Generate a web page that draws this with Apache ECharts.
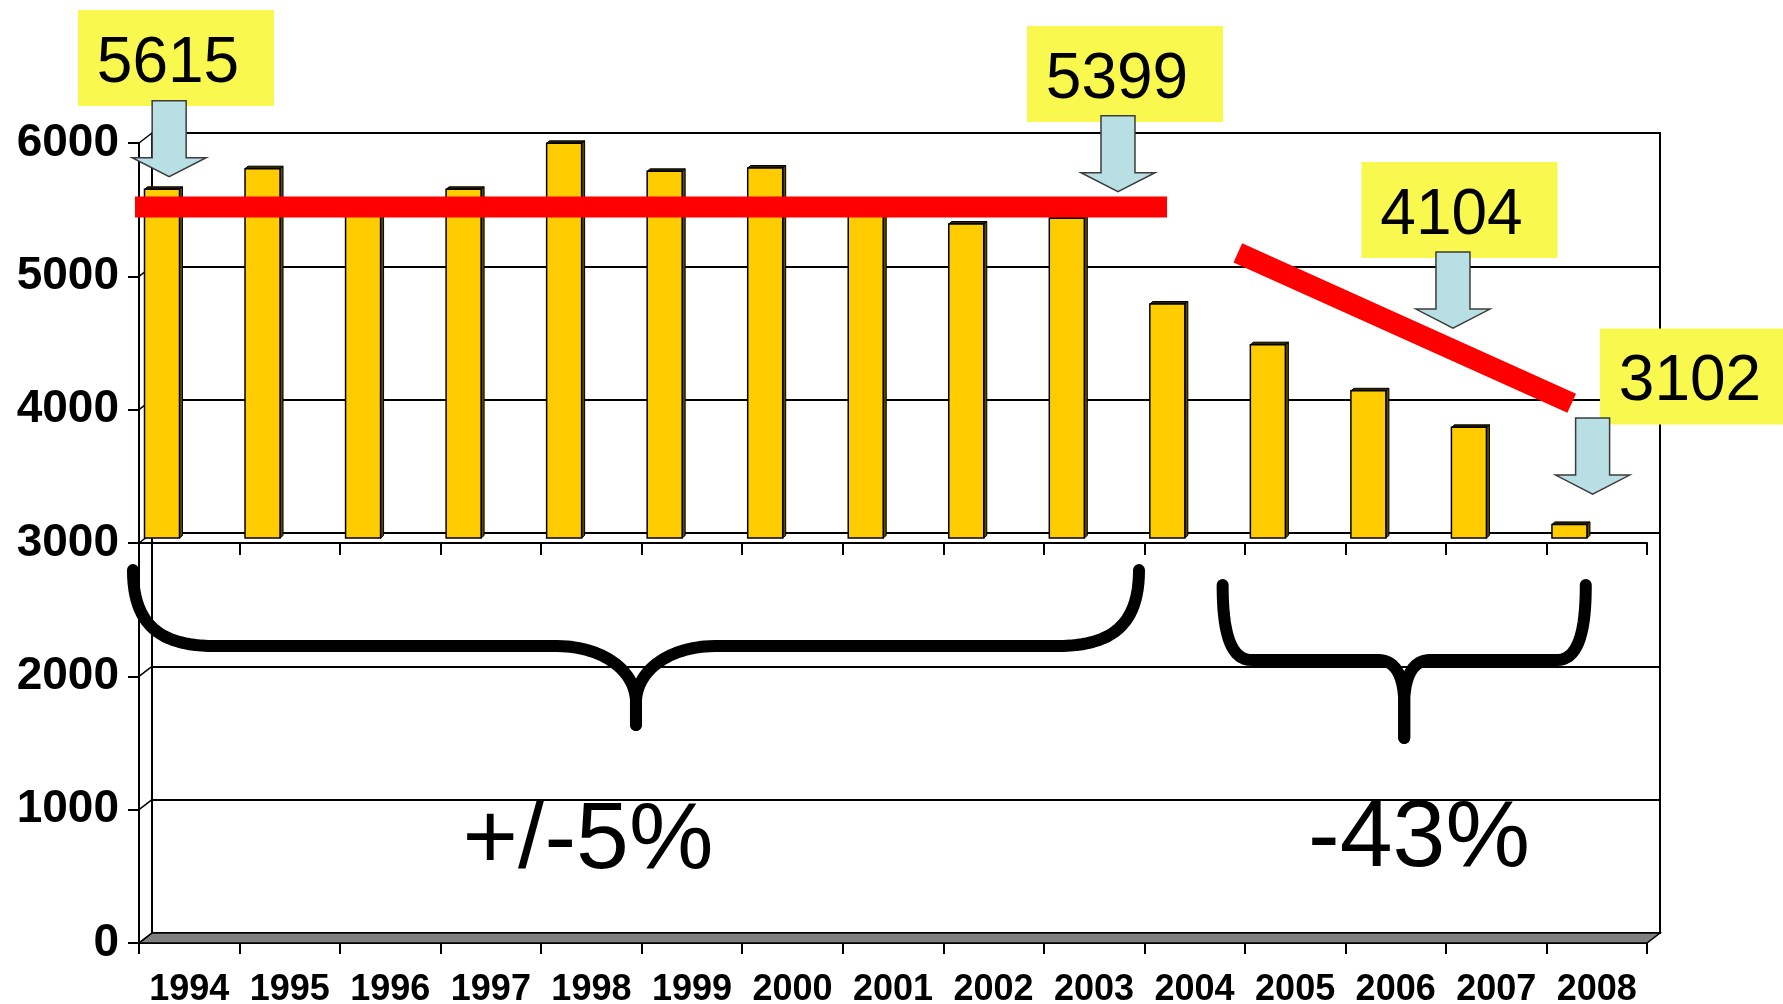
<!DOCTYPE html>
<html>
<head>
<meta charset="utf-8">
<script src="https://cdn.jsdelivr.net/npm/echarts@6/dist/echarts.min.js"></script>
<style>
html,body{margin:0;padding:0;background:#fff;}
#c{width:1783px;height:1004px;}
</style>
</head>
<body>
<div id="c"></div>
<script>
// ---------------- data ----------------
const years = ['1994','1995','1996','1997','1998','1999','2000','2001','2002','2003','2004','2005','2006','2007','2008'];
const values = [5615, 5770, 5490, 5615, 5960, 5750, 5775, 5480, 5355, 5399, 4755, 4450, 4104, 3830, 3102];
const yTicks = [0, 1000, 2000, 3000, 4000, 5000, 6000];
const calloutLabels = ['5615', '5399', '4104', '3102'];
const changeLabels = ['+/-5%', '-43%'];
const axisBreakValue = 3000;   // bars of the upper panel start here

// ---------------- layout (annotation anchors in data units: x = category index, y = value) ----------------
const LAYOUT = {
  depth: [13, -10],            // back wall offset in px
  bar: { inset: 5.5, width: 35, dy: -5, side: [3, -2.5] },
  callouts: [
    { box: [-0.132, 6637], arrow: [-0.200, 5747] },
    { box: [9.308, 6517],  arrow: [9.238, 5635] },
    { box: [12.635, 5497], arrow: [12.570, 4612] },
    { box: [15.007, 4249], arrow: [13.959, 3367] }
  ],
  flatLine: [[-0.540, 5520], [9.726, 5520]],
  slopeLine: [[10.430, 5176], [13.751, 4048]],
  braces: [
    { x0: -0.560, x1: 9.447, top: 2797, mid: 2227, tip: 1635,
      shape: { armR: 82, k1: 0.72, k2: 0.33, tipR: 79, c1: 0.46, c2: 2, c3: 22, drop: 54 } },
    { x0: 10.279, x1: 13.891, top: 2685, mid: 2122, tip: 1537,
      shape: { armR: 29, k1: 0.53, k2: 0.18, tipR: 26, c1: 0.48, c2: 1.2, c3: 10, drop: 40 } }
  ],
  changeText: [[3.966, 757], [12.232, 772]]
};

const FONT = '"Liberation Sans", Arial, Helvetica, sans-serif';
const xMax = years.length - 0.5;

function bezierPts(p0, p1, p2, p3, n) {
  const out = [];
  for (let k = 1; k <= n; k++) {
    const t = k / n, u = 1 - t;
    out.push([
      u*u*u*p0[0] + 3*u*u*t*p1[0] + 3*u*t*t*p2[0] + t*t*t*p3[0],
      u*u*u*p0[1] + 3*u*u*t*p1[1] + 3*u*t*t*p2[1] + t*t*t*p3[1]
    ]);
  }
  return out;
}

function braceHalf(xEnd, yTop, yMid, tipX, tipY, s, dir) {
  const pts = [[xEnd, yTop]];
  const a = [xEnd + dir*s.armR, yMid];
  pts.push(...bezierPts([xEnd, yTop], [xEnd, yTop + s.k1*(yMid - yTop)], [xEnd + dir*s.k2*s.armR, yMid], a, 24));
  const b = [tipX - dir*s.tipR, yMid];
  pts.push(b);
  const c = [tipX, yMid + s.drop];
  pts.push(...bezierPts(b, [tipX - dir*s.c1*s.tipR, yMid], [tipX - dir*s.c2, yMid + s.c3], c, 24));
  pts.push([tipX, tipY]);
  return pts;
}

function renderBar(params, api) {
  const i = api.value(0), v = api.value(1);
  const bw = api.size([1, 0])[0];
  const top = api.coord([i, v]);
  const base = api.coord([i, axisBreakValue]);
  const B = LAYOUT.bar;
  const x0 = top[0] - bw/2 + B.inset;
  const x1 = x0 + B.width;
  const yT = top[1] + B.dy;
  const yB = base[1] + B.dy;
  const d = B.side;
  return { type: 'group', children: [
    { type: 'polygon', shape: { points: [[x1, yT], [x1 + d[0], yT + d[1]], [x1 + d[0], yB + d[1]], [x1, yB]] },
      style: { fill: '#5a4700', stroke: '#000', lineWidth: 1 } },
    { type: 'polygon', shape: { points: [[x0, yT], [x0 + d[0], yT + d[1]], [x1 + d[0], yT + d[1]], [x1, yT]] },
      style: { fill: '#2e2500', stroke: '#000', lineWidth: 1 } },
    { type: 'rect', shape: { x: x0, y: yT, width: x1 - x0, height: yB - yT },
      style: { fill: '#FFCC00', stroke: '#000', lineWidth: 1.5 } }
  ]};
}

function renderConnector(params, api) {
  const p = api.coord([api.value(0), api.value(1)]);
  const d = LAYOUT.depth;
  return { type: 'line', shape: { x1: p[0], y1: p[1], x2: p[0] + d[0], y2: p[1] + d[1] },
    style: { stroke: '#000', lineWidth: 1.5 } };
}

function renderFloor(params, api) {
  const a = api.coord([-0.5, yTicks[0]]);
  const b = api.coord([xMax, yTicks[0]]);
  const d = LAYOUT.depth;
  return { type: 'polygon', shape: { points: [a, b, [b[0] + d[0], b[1] + d[1]], [a[0] + d[0], a[1] + d[1]]] },
    style: { fill: '#808080', stroke: '#000', lineWidth: 1.5 } };
}

function renderAnnotations(params, api) {
  const P = (p) => api.coord(p);
  const kids = [];
  [LAYOUT.flatLine, LAYOUT.slopeLine].forEach(l => {
    kids.push({ type: 'polyline', shape: { points: l.map(P) },
      style: { stroke: '#FF0000', lineWidth: 21, lineCap: 'butt', fill: null } });
  });
  LAYOUT.braces.forEach(b => {
    const L = P([b.x0, b.top]), R = P([b.x1, b.top]), M = P([b.x0, b.mid]), T = P([b.x0, b.tip]);
    const tipX = (L[0] + R[0]) / 2;
    [braceHalf(L[0], L[1], M[1], tipX, T[1], b.shape, 1),
     braceHalf(R[0], R[1], M[1], tipX, T[1], b.shape, -1)].forEach(pts => {
      kids.push({ type: 'polyline', shape: { points: pts },
        style: { stroke: '#000', lineWidth: 12, lineJoin: 'round', lineCap: 'round', fill: null } });
    });
  });
  LAYOUT.callouts.forEach((c, i) => {
    const B = P(c.box);
    kids.push({ type: 'rect', shape: { x: B[0] - 98, y: B[1] - 48, width: 196, height: 96 },
      style: { fill: '#F8F84E' } });
    kids.push({ type: 'text', x: B[0] - 8, y: B[1] + 6,
      style: { text: calloutLabels[i], fontFamily: FONT, fontSize: 64, fill: '#000', align: 'center', verticalAlign: 'middle' } });
  });
  LAYOUT.callouts.forEach(c => {
    const t = P(c.arrow);
    const sw = 17, hw = 37, hl = 19, len = 76;
    kids.push({ type: 'polygon', shape: { points: [
      [t[0] - sw, t[1] - len], [t[0] + sw, t[1] - len], [t[0] + sw, t[1] - hl], [t[0] + hw, t[1] - hl],
      [t[0], t[1]], [t[0] - hw, t[1] - hl], [t[0] - sw, t[1] - hl]] },
      style: { fill: '#B8DFE3', stroke: '#3c3c3c', lineWidth: 1.5 } });
  });
  LAYOUT.changeText.forEach((p, i) => {
    const q = P(p);
    kids.push({ type: 'text', x: q[0], y: q[1],
      style: { text: changeLabels[i], fontFamily: FONT, fontSize: 95, fill: '#000', align: 'center', verticalAlign: 'middle' } });
  });
  return { type: 'group', children: kids };
}

const black2 = { color: '#000', width: 2 };
const chart = echarts.init(document.getElementById('c'));
chart.setOption({
  animation: false,
  backgroundColor: '#ffffff',
  grid: [
    { left: 139, top: 143, width: 1508, height: 800, containLabel: false, outerBoundsMode: 'none' },
    { left: 152, top: 133, width: 1508, height: 800, show: true, borderColor: '#000', borderWidth: 2,
      backgroundColor: 'transparent', containLabel: false, outerBoundsMode: 'none' },
    { left: 139, top: 143, width: 1508, height: 400, containLabel: false, outerBoundsMode: 'none' }
  ],
  xAxis: [
    { gridIndex: 0, type: 'category', data: years, boundaryGap: true, position: 'bottom',
      axisLine: { show: true, onZero: false, lineStyle: black2 },
      axisTick: { show: true, length: 11, lineStyle: black2 },
      axisLabel: { interval: 0, fontFamily: FONT, fontWeight: 'bold', fontSize: 36, color: '#000', margin: 29 },
      splitLine: { show: false } },
    { gridIndex: 0, type: 'value', min: -0.5, max: xMax, show: false, position: 'top',
      axisLine: { show: false, onZero: false }, axisTick: { show: false }, axisLabel: { show: false },
      splitLine: { show: false } },
    { gridIndex: 1, type: 'category', data: years, show: false,
      axisLine: { show: false, onZero: false }, axisTick: { show: false }, axisLabel: { show: false } },
    { gridIndex: 2, type: 'category', data: years, boundaryGap: true, position: 'bottom',
      axisLine: { show: true, onZero: false, lineStyle: black2 },
      axisTick: { show: true, length: 12, lineStyle: black2 },
      axisLabel: { show: false }, splitLine: { show: false } }
  ],
  yAxis: [
    { gridIndex: 0, type: 'value', position: 'left',
      min: yTicks[0], max: yTicks[yTicks.length - 1], interval: yTicks[1] - yTicks[0],
      axisLine: { show: true, onZero: false, lineStyle: black2 },
      axisTick: { show: true, length: 11, lineStyle: black2 },
      axisLabel: { fontFamily: FONT, fontWeight: 'bold', fontSize: 46, color: '#000', margin: 20,
        formatter: (v) => String(v) },
      splitLine: { show: false } },
    { gridIndex: 1, type: 'value', position: 'left',
      min: yTicks[0], max: yTicks[yTicks.length - 1], interval: yTicks[1] - yTicks[0],
      axisLine: { show: false, onZero: false }, axisTick: { show: false }, axisLabel: { show: false },
      splitLine: { show: true, lineStyle: black2 } },
    { gridIndex: 2, type: 'value', position: 'left', min: axisBreakValue, max: yTicks[yTicks.length - 1], show: false,
      axisLine: { show: false, onZero: false }, axisTick: { show: false }, axisLabel: { show: false },
      splitLine: { show: false } }
  ],
  series: [
    { type: 'custom', name: 'floor', xAxisIndex: 1, yAxisIndex: 0, data: [[-0.5, 0]],
      renderItem: renderFloor, z: 1, silent: true, clip: false },
    { type: 'custom', name: 'sidewall', xAxisIndex: 1, yAxisIndex: 0, data: yTicks.map(v => [-0.5, v]),
      renderItem: renderConnector, z: 1, silent: true, clip: false },
    { type: 'custom', name: 'values', xAxisIndex: 0, yAxisIndex: 0, data: values.map((v, i) => [i, v]),
      renderItem: renderBar, z: 3, silent: true, clip: false },
    { type: 'custom', name: 'annotations', xAxisIndex: 1, yAxisIndex: 0, data: [[0, 0]],
      renderItem: renderAnnotations, z: 10, silent: true, clip: false }
  ]
});
</script>
</body>
</html>
